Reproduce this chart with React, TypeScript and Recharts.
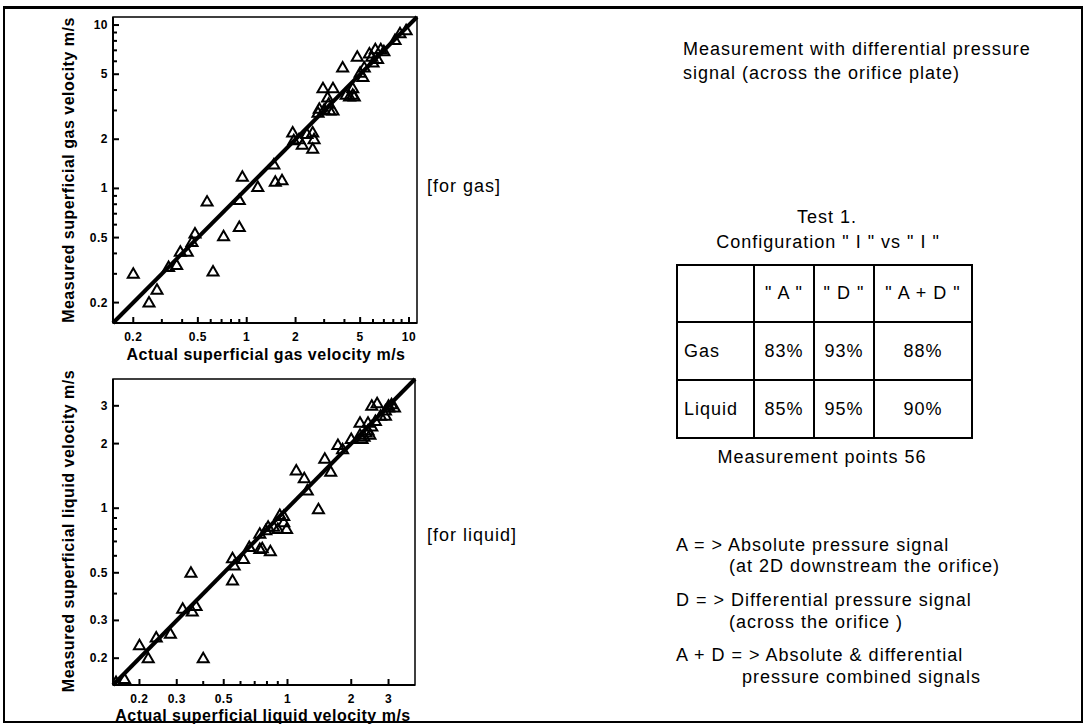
import React from "react";
import {
  ReferenceArea,
  ReferenceLine,
  Scatter,
  ScatterChart,
  XAxis,
  YAxis,
} from "recharts";

// gas: actual vs measured superficial velocity (m/s)
const gasActual = [
  0.2, 0.25, 0.28, 0.33, 0.37, 0.39, 0.43, 0.46, 0.48, 0.62, 0.57, 0.72, 0.9,
  0.9, 0.94, 1.17, 1.47, 1.5, 1.65, 1.92, 1.95, 2.1, 2.2, 2.35, 2.55, 2.6, 2.55,
  2.8, 2.95, 3.15, 3.2, 3.4, 3.25, 3.4, 3.0, 3.9, 4.1, 4.5, 4.5, 4.8, 5.7, 6.2,
  6.7, 5.9, 5.3, 5.0, 5.2, 4.6, 4.3, 9.6, 8.8, 6.0, 7.0, 8.2, 6.4, 2.75,
];
const gasMeasured = [
  0.3, 0.2, 0.24, 0.33, 0.34, 0.41, 0.41, 0.47, 0.53, 0.31, 0.83, 0.51, 0.58,
  0.85, 1.18, 1.02, 1.4, 1.1, 1.12, 2.2, 1.97, 2.0, 1.85, 2.15, 2.2, 2.0, 1.75,
  3.07, 4.1, 3.6, 3.3, 4.1, 3.0, 3.0, 3.03, 5.5, 3.75, 4.1, 3.75, 6.4, 6.7, 7.1,
  7.1, 6.4, 5.5, 5.1, 4.8, 3.65, 3.65, 9.3, 8.9, 5.9, 6.9, 8.1, 6.2, 2.9,
];

// liquid: actual vs measured superficial velocity (m/s)
const liquidActual = [
  0.155, 0.17, 0.2, 0.22, 0.24, 0.28, 0.32, 0.355, 0.37, 0.35, 0.4, 0.55, 0.55,
  0.56, 0.62, 0.74, 0.76, 0.74, 0.83, 0.81, 0.86, 0.9, 0.99, 0.96, 0.96, 1.1,
  1.2, 1.24, 1.4, 1.5, 1.6, 1.73, 1.82, 2.0, 2.2, 2.5, 2.65, 2.2, 2.3, 2.35,
  2.4, 2.5, 2.6, 2.75, 2.9, 3.0, 3.1, 2.45, 2.9, 3.2, 0.66, 0.79, 0.92, 2.4,
  2.25, 3.0,
];
const liquidMeasured = [
  0.155, 0.16, 0.23, 0.2, 0.25, 0.26, 0.34, 0.33, 0.35, 0.5, 0.2, 0.46, 0.585,
  0.54, 0.58, 0.76, 0.65, 0.645, 0.63, 0.82, 0.82, 0.8, 0.8, 0.86, 0.92, 1.5,
  1.38, 1.21, 0.99, 1.7, 1.48, 1.97, 1.88, 2.1, 2.5, 3.0, 3.08, 2.2, 2.15, 2.25,
  2.3, 2.4, 2.55, 2.7, 2.85, 2.95, 3.05, 2.2, 2.7, 2.95, 0.66, 0.79, 0.93, 2.5,
  2.1, 3.0,
];

const gasDomain = [0.15, 11.2];
const liquidDomain = [0.15, 4];

const gasTicks = [0.2, 0.3, 0.4, 0.5, 0.6, 0.7, 0.8, 0.9, 1, 2, 3, 4, 5, 6, 7, 8, 9, 10];
const gasTickLabels = [0.2, 0.5, 1, 2, 5, 10];
const liquidTicks = [0.2, 0.3, 0.4, 0.5, 0.6, 0.7, 0.8, 0.9, 1, 2, 3];
const liquidTickLabels = [0.2, 0.3, 0.5, 1, 2, 3];

const tableColumns = ['" A "', '" D "', '" A + D "'];
const tableRows = ["Gas", "Liquid"];
const gasAccuracy = ["83%", "93%", "88%"];
const liquidAccuracy = ["85%", "95%", "90%"];

const FONT = "'Liberation Sans', Arial, Helvetica, sans-serif";

const zip = (xs: number[], ys: number[]) => xs.map((x, i) => ({ x, y: ys[i] }));

function Triangle(props: any) {
  const { cx, cy } = props;
  if (cx == null || cy == null) return null;
  return (
    <polygon
      points={`${cx},${cy - 5.5} ${cx - 5.5},${cy + 4} ${cx + 5.5},${cy + 4}`}
      fill="none"
      stroke="#000"
      strokeWidth={2}
    />
  );
}

const xTick = (labels: number[]) => (props: any) => {
  const { x, y, payload } = props;
  const major = labels.includes(payload.value);
  return (
    <g>
      <line x1={x} y1={y} x2={x} y2={y - (major ? 6 : 4)} stroke="#000" strokeWidth={2} />
      {major && (
        <text
          x={x}
          y={y + 18}
          textAnchor="middle"
          fontSize={12}
          fontWeight="bold"
          fontFamily={FONT}
          letterSpacing={0.5}
        >
          {payload.value}
        </text>
      )}
    </g>
  );
};

const yTick = (labels: number[]) => (props: any) => {
  const { x, y, payload } = props;
  const major = labels.includes(payload.value);
  return (
    <g>
      <line x1={x} y1={y} x2={x + (major ? 6 : 4)} y2={y} stroke="#000" strokeWidth={2} />
      {major && (
        <text
          x={x - 5}
          y={y + 4}
          textAnchor="end"
          fontSize={12}
          fontWeight="bold"
          fontFamily={FONT}
          letterSpacing={0.5}
        >
          {payload.value}
        </text>
      )}
    </g>
  );
};

function LogPanel({ data, domain, ticks, labels, top, right }: any) {
  const [lo, hi] = domain;
  return (
    <div style={{ position: "absolute", left: 0, top }}>
      <ScatterChart
        width={440}
        height={360}
        margin={{ top: 17, right, bottom: 7, left: 73 }}
      >
        <XAxis
          type="number"
          dataKey="x"
          scale="log"
          domain={domain}
          allowDataOverflow
          ticks={ticks}
          interval={0}
          height={30}
          tickSize={0}
          tickMargin={0}
          tickLine={false}
          axisLine={{ stroke: "#000", strokeWidth: 2 }}
          tick={xTick(labels)}
        />
        <YAxis
          type="number"
          dataKey="y"
          scale="log"
          domain={domain}
          allowDataOverflow
          ticks={ticks}
          interval={0}
          width={40}
          tickSize={0}
          tickMargin={0}
          tickLine={false}
          axisLine={{ stroke: "#000", strokeWidth: 2 }}
          tick={yTick(labels)}
        />
        <ReferenceArea
          x1={lo}
          x2={hi}
          y1={lo}
          y2={hi}
          fill="none"
          stroke="#000"
          strokeWidth={1.5}
        />
        <ReferenceLine
          segment={[
            { x: lo, y: lo },
            { x: hi, y: hi },
          ]}
          stroke="#000"
          strokeWidth={4}
        />
        <Scatter data={data} shape={Triangle} isAnimationActive={false} />
      </ScatterChart>
    </div>
  );
}

function Text({ x, y, children, anchor = "left", size = 18, bold = false, spacing = 1 }: any) {
  const shift = anchor === "center" ? "-50%" : "0";
  return (
    <div
      style={{
        position: "absolute",
        left: x,
        top: y,
        transform: `translate(${shift}, -50%)`,
        whiteSpace: "pre",
        fontFamily: FONT,
        fontSize: size,
        fontWeight: bold ? "bold" : "normal",
        letterSpacing: spacing,
        lineHeight: 1,
        color: "#000",
      }}
    >
      {children}
    </div>
  );
}

function VText({ x, y, children }: any) {
  return (
    <div
      style={{
        position: "absolute",
        left: x,
        top: y,
        transform: "translate(-50%, -50%) rotate(-90deg)",
        whiteSpace: "pre",
        fontFamily: FONT,
        fontSize: 16,
        fontWeight: "bold",
        letterSpacing: 0.5,
        lineHeight: 1,
      }}
    >
      {children}
    </div>
  );
}

const cell: React.CSSProperties = {
  border: "2px solid #000",
  padding: 0,
  textAlign: "center",
  fontFamily: FONT,
  fontSize: 18,
  letterSpacing: 1,
};

export default function App() {
  return (
    <div
      style={{
        position: "absolute",
        left: 0,
        top: 0,
        width: 1087,
        height: 728,
        background: "#fff",
        overflow: "hidden",
      }}
    >
      <div
        style={{
          position: "absolute",
          left: 3,
          top: 6,
          width: 1080,
          height: 717,
          boxSizing: "border-box",
          borderTop: "3px solid #000",
          borderLeft: "2px solid #000",
          borderRight: "2px solid #000",
          borderBottom: "2px solid #000",
        }}
      />

      <LogPanel
        data={zip(gasActual, gasMeasured)}
        domain={gasDomain}
        ticks={gasTicks}
        labels={gasTickLabels}
        top={0}
        right={23}
      />
      <LogPanel
        data={zip(liquidActual, liquidMeasured)}
        domain={liquidDomain}
        ticks={liquidTicks}
        labels={liquidTickLabels}
        top={362}
        right={25}
      />

      <VText x={69} y={170}>Measured superficial gas velocity m/s</VText>
      <VText x={69} y={531}>Measured superficial liquid velocity m/s</VText>
      <Text x={266} y={355} anchor="center" size={16} bold spacing={0.5}>
        Actual superficial gas velocity m/s
      </Text>
      <Text x={263} y={716} anchor="center" size={16} bold spacing={0.5}>
        Actual superficial liquid velocity m/s
      </Text>

      <Text x={427} y={186}>[for gas]</Text>
      <Text x={427} y={535}>[for liquid]</Text>

      <Text x={683} y={49}>Measurement with differential pressure</Text>
      <Text x={683} y={73}>signal (across the orifice plate)</Text>

      <Text x={827} y={217} anchor="center">Test 1.</Text>
      <Text x={828} y={242} anchor="center">Configuration " I " vs " I "</Text>

      <table
        style={{
          position: "absolute",
          left: 676,
          top: 264,
          borderCollapse: "collapse",
          tableLayout: "fixed",
        }}
      >
        <tbody>
          <tr style={{ height: 57 }}>
            <td style={{ ...cell, width: 75 }} />
            {tableColumns.map((c) => (
              <td key={c} style={cell}>
                {c}
              </td>
            ))}
          </tr>
          {[gasAccuracy, liquidAccuracy].map((row, i) => (
            <tr key={tableRows[i]} style={{ height: 58 }}>
              <td style={{ ...cell, textAlign: "left", paddingLeft: 6 }}>{tableRows[i]}</td>
              <td style={{ ...cell, width: 58 }}>{row[0]}</td>
              <td style={{ ...cell, width: 58 }}>{row[1]}</td>
              <td style={{ ...cell, width: 96 }}>{row[2]}</td>
            </tr>
          ))}
        </tbody>
      </table>

      <Text x={822} y={457} anchor="center">Measurement points 56</Text>

      <Text x={676} y={545}>A = &gt; Absolute pressure signal</Text>
      <Text x={729} y={566}>(at 2D downstream the orifice)</Text>
      <Text x={676} y={600}>D = &gt; Differential pressure signal</Text>
      <Text x={729} y={622}>(across the orifice )</Text>
      <Text x={676} y={655}>A + D = &gt; Absolute &amp; differential</Text>
      <Text x={742} y={677}>pressure combined signals</Text>
    </div>
  );
}
